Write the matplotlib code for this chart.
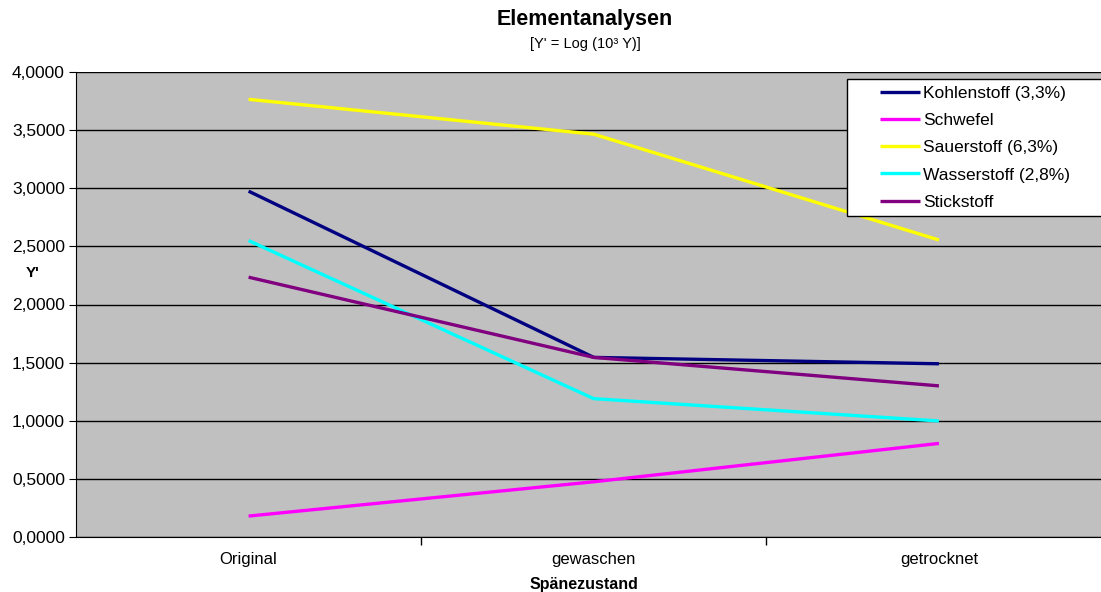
import matplotlib.pyplot as plt
from matplotlib.legend_handler import HandlerLine2D
from matplotlib.ticker import FuncFormatter, MultipleLocator

plt.rcParams['font.family'] = ['Liberation Sans', 'DejaVu Sans']

zustand = ["Original", "gewaschen", "getrocknet"]
kohlenstoff = [2.975, 1.545, 1.49]
schwefel = [0.18, 0.475, 0.805]
sauerstoff = [3.765, 3.465, 2.555]
wasserstoff = [2.55, 1.19, 0.998]
stickstoff = [2.235, 1.545, 1.30]

namen = ["Kohlenstoff (3,3%)", "Schwefel", "Sauerstoff (6,3%)",
         "Wasserstoff (2,8%)", "Stickstoff"]
farben = ["#000080", "#FF00FF", "#FFFF00", "#00FFFF", "#800080"]

fig = plt.figure(figsize=(11.01, 5.92), dpi=100)
W, H = 1101, 592
ax = fig.add_axes([76 / W, 1 - 537 / H, (1111.5 - 76) / W, (537 - 72) / H])
ax.set_facecolor("#C0C0C0")

x = list(range(len(zustand)))
for werte, name, farbe in zip([kohlenstoff, schwefel, sauerstoff, wasserstoff, stickstoff],
                              namen, farben):
    ax.plot(x, werte, color=farbe, lw=2.4, label=name, solid_capstyle="butt")

ax.set_xlim(-0.5, 2.5)
ax.set_ylim(0, 4)
ax.yaxis.set_major_locator(MultipleLocator(0.5))
ax.yaxis.set_major_formatter(FuncFormatter(lambda v, p: f"{v:.4f}".replace(".", ",")))
ax.grid(axis="y", color="black", lw=1)
ax.set_axisbelow(True)

ax.set_xticks(x)
ax.set_xticklabels(zustand, fontsize=12)
ax.tick_params(axis="x", length=0, pad=11)
ax.set_xticks([0.5, 1.5], minor=True)
ax.tick_params(axis="x", which="minor", length=6, width=1, direction="out", color="black")
ax.tick_params(axis="y", labelsize=12.5, length=5, direction="out", pad=3)

for s in ["top", "right"]:
    ax.spines[s].set_visible(False)
ax.spines["left"].set_color("black")
ax.spines["bottom"].set_color("black")

fig.text(585 / W, 1 - 20 / H, "Elementanalysen", ha="center", va="center",
         fontsize=15.5, fontweight="bold")
fig.text(585 / W, 1 - 44 / H, "[Y' = Log (10³ Y)]", ha="center", va="center", fontsize=10.5)
fig.text(584 / W, 1 - 584 / H, "Spänezustand", ha="center", va="center",
         fontsize=11.5, fontweight="bold")
fig.text(33 / W, 1 - 273 / H, "Y'", ha="center", va="center", fontsize=11, fontweight="bold")

lfs = 12.5
fs = lfs * 100 / 72
bp = 6.5 / fs
leg = ax.legend(loc="upper left", bbox_to_anchor=(847 / W, 1 - 218 / H, 400 / W, 139 / H),
                bbox_transform=fig.transFigure, mode="expand", fontsize=lfs, frameon=True,
                fancybox=False, edgecolor="black", framealpha=1,
                borderpad=bp, borderaxespad=0, labelspacing=0.7,
                handlelength=(68.25 - 1.75) / fs, handletextpad=0.17,
                handler_map={plt.Line2D: HandlerLine2D(xpad=(28.25 - 1.75) / fs)})
leg.get_frame().set_linewidth(1)
for l in leg.get_lines():
    l.set_linewidth(2.4)

fig.savefig("out.png", dpi=100)
